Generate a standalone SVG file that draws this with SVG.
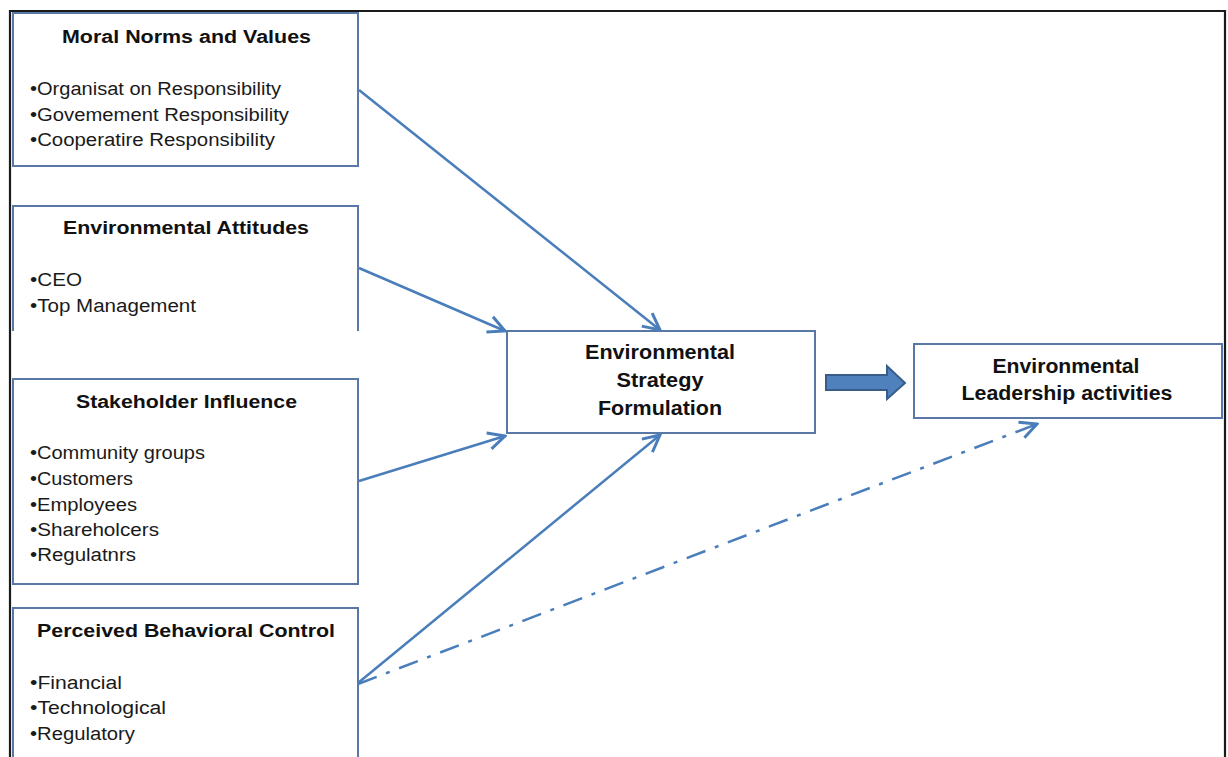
<svg xmlns="http://www.w3.org/2000/svg" width="1228" height="757" viewBox="0 0 1228 757">
  <defs>
    <style>
      .frame { fill: none; stroke: #1a1a1a; stroke-width: 2.2; }
      .box { fill: #ffffff; stroke: #5a78a6; stroke-width: 2; }
      .side { fill: none; stroke: #5a78a6; stroke-width: 2; }
      .title { font-family: "Liberation Sans", Arial, sans-serif; font-weight: bold; font-size: 18px; fill: #111; }
      .item { font-family: "Liberation Sans", Arial, sans-serif; font-size: 18px; fill: #1a1a1a; }
      .big { font-family: "Liberation Sans", Arial, sans-serif; font-weight: bold; font-size: 20px; fill: #111; text-anchor: middle; }
      .link { fill: none; stroke: #4a7ebb; stroke-width: 2.5; }
      .dashed { fill: none; stroke: #4a7ebb; stroke-width: 2.5; stroke-dasharray: 20 10 4 10; }
    </style>
    <marker id="open" viewBox="0 0 12 12" refX="11" refY="6" markerWidth="8" markerHeight="8" markerUnits="strokeWidth" orient="auto">
      <path d="M1,1 L11,6 L1,11" fill="none" stroke="#4a7ebb" stroke-width="1.8"/>
    </marker>
  </defs>

  <rect width="1228" height="757" fill="#ffffff"/>

  <!-- page frame, open at the bottom -->
  <path class="frame" d="M10,757 V11 H1225 V757"/>

  <g id="moral-norms">
    <rect class="box" x="13" y="13" width="345" height="153"/>
    <text class="title" x="62" y="43" textLength="249" lengthAdjust="spacingAndGlyphs">Moral Norms and Values</text>
    <text class="item" x="30" y="95" textLength="251" lengthAdjust="spacingAndGlyphs">•Organisat on Responsibility</text>
    <text class="item" x="30" y="121" textLength="259" lengthAdjust="spacingAndGlyphs">•Govemement Responsibility</text>
    <text class="item" x="30" y="146" textLength="245" lengthAdjust="spacingAndGlyphs">•Cooperatire Responsibility</text>
  </g>

  <g id="environmental-attitudes">
    <path class="box" d="M13,331 V206 H358 V331" />
    <text class="title" x="63" y="234" textLength="246" lengthAdjust="spacingAndGlyphs">Environmental Attitudes</text>
    <text class="item" x="30" y="286" textLength="52" lengthAdjust="spacingAndGlyphs">•CEO</text>
    <text class="item" x="30" y="312" textLength="166" lengthAdjust="spacingAndGlyphs">•Top Management</text>
  </g>

  <g id="stakeholder-influence">
    <rect class="box" x="13" y="379" width="345" height="205"/>
    <text class="title" x="76" y="408" textLength="221" lengthAdjust="spacingAndGlyphs">Stakeholder Influence</text>
    <text class="item" x="30" y="459" textLength="175" lengthAdjust="spacingAndGlyphs">•Community groups</text>
    <text class="item" x="30" y="485" textLength="103" lengthAdjust="spacingAndGlyphs">•Customers</text>
    <text class="item" x="30" y="511" textLength="107" lengthAdjust="spacingAndGlyphs">•Employees</text>
    <text class="item" x="30" y="536" textLength="129" lengthAdjust="spacingAndGlyphs">•Shareholcers</text>
    <text class="item" x="30" y="561" textLength="106" lengthAdjust="spacingAndGlyphs">•Regulatnrs</text>
  </g>

  <g id="perceived-control">
    <path class="box" d="M13,760 V608 H358 V760" />
    <text class="title" x="37" y="637" textLength="298" lengthAdjust="spacingAndGlyphs">Perceived Behavioral Control</text>
    <text class="item" x="30" y="689" textLength="92" lengthAdjust="spacingAndGlyphs">•Financial</text>
    <text class="item" x="30" y="714" textLength="136" lengthAdjust="spacingAndGlyphs">•Technological</text>
    <text class="item" x="30" y="740" textLength="105" lengthAdjust="spacingAndGlyphs">•Regulatory</text>
  </g>

  <g id="strategy-formulation">
    <rect class="box" x="507" y="331" width="308" height="102"/>
    <text class="big" x="660" y="359" textLength="150" lengthAdjust="spacingAndGlyphs">Environmental</text>
    <text class="big" x="660" y="387" textLength="87" lengthAdjust="spacingAndGlyphs">Strategy</text>
    <text class="big" x="660" y="415" textLength="124" lengthAdjust="spacingAndGlyphs">Formulation</text>
  </g>

  <g id="leadership-activities">
    <rect class="box" x="914" y="344" width="308" height="74"/>
    <text class="big" x="1066" y="373" textLength="147" lengthAdjust="spacingAndGlyphs">Environmental</text>
    <text class="big" x="1067" y="400" textLength="211" lengthAdjust="spacingAndGlyphs">Leadership activities</text>
  </g>

  <g id="connectors">
    <line class="link" x1="359" y1="90" x2="660" y2="330" marker-end="url(#open)"/>
    <line class="link" x1="359" y1="268" x2="505" y2="331" marker-end="url(#open)"/>
    <line class="link" x1="359" y1="481" x2="505" y2="436" marker-end="url(#open)"/>
    <line class="link" x1="358" y1="683" x2="660" y2="435" marker-end="url(#open)"/>
    <line class="dashed" x1="358" y1="684" x2="1037" y2="424" marker-end="url(#open)"/>
    <!-- block arrow between strategy and leadership -->
    <path d="M826,375 H887 V366 L905,383 L887,399 V390 H826 Z" fill="#4f81bd" stroke="#385d8a" stroke-width="2" stroke-linejoin="miter"/>
  </g>
</svg>
